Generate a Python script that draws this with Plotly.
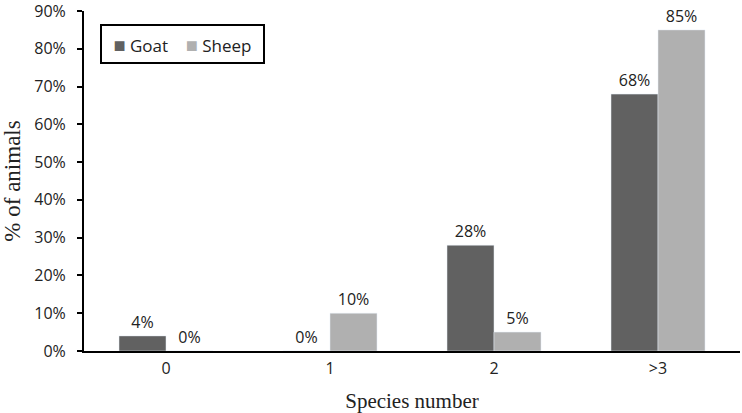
import plotly.graph_objects as go

categories = ["0", "1", "2", ">3"]
goat = [4, 0, 28, 68]
sheep = [0, 10, 5, 85]
y_ticks = [0, 10, 20, 30, 40, 50, 60, 70, 80, 90]
goat_color = "#616161"
sheep_color = "#b0b0b0"

fig = go.Figure()
fig.add_trace(go.Bar(x=categories, y=goat, name="Goat", marker_color=goat_color,
                     text=[f"{v}%" for v in goat], textposition="outside",
                     textfont=dict(color="#222", size=16), cliponaxis=False))
fig.add_trace(go.Bar(x=categories, y=sheep, name="Sheep", marker_color=sheep_color,
                     text=[f"{v}%" for v in sheep], textposition="outside",
                     textfont=dict(color="#222", size=16), cliponaxis=False))

legend_text = (f"<span style='color:{goat_color};font-size:20px'>■</span> Goat&nbsp;&nbsp;&nbsp;&nbsp;"
               f"<span style='color:{sheep_color};font-size:20px'>■</span> Sheep")

fig.update_layout(
    width=742, height=413,
    margin=dict(l=84, r=2, t=11, b=62, autoexpand=False),
    paper_bgcolor="white", plot_bgcolor="white",
    font=dict(family="Open Sans", size=16, color="#222"),
    barmode="group", bargap=0.427, bargroupgap=0,
    showlegend=False,
    annotations=[dict(text=legend_text, xref="paper", yref="paper",
                      x=0.024, y=0.962, xanchor="left", yanchor="top",
                      showarrow=False, bordercolor="black", borderwidth=2,
                      borderpad=3, bgcolor="white", width=155, height=30,
                      align="center", font=dict(size=17, family="Open Sans", color="#222"))],
    xaxis=dict(showline=True, linecolor="black", linewidth=2, ticks="",
               automargin=False, ticklabelstandoff=2,
               title=dict(text="Species number", font=dict(family="Liberation Serif", size=21), standoff=18),
               tickfont=dict(size=16)),
    yaxis=dict(range=[0, 90], tickvals=y_ticks, ticktext=[f"{v}%" for v in y_ticks],
               showline=True, linecolor="black", linewidth=2, ticks="outside", ticklen=5,
               tickcolor="black", tickwidth=2, showgrid=False, zeroline=False,
               automargin=False, ticklabeloverflow="allow", ticklabelstandoff=8,
               title=dict(text="% of animals", font=dict(family="Liberation Serif", size=23), standoff=10),
               tickfont=dict(size=16)),
)

fig.write_html("out.html", post_script="document.body.style.margin='0px';",
               config={"displayModeBar": False})
